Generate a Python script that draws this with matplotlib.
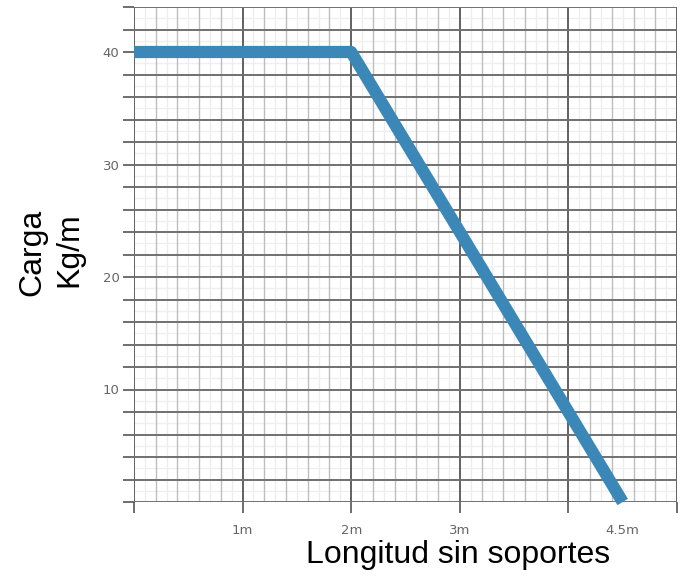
import matplotlib
matplotlib.use("Agg")
import matplotlib.pyplot as plt
import numpy as np
from matplotlib.ticker import MultipleLocator

# Data
length_m = [0, 2, 4.5]
load_kg_m = [40, 40, 0]
x_tick_vals = [0, 1, 2, 3, 4, 5]
x_tick_labels = ["", "1m", "2m", "3m", "", ""]
extra_x_label_pos = 4.5
extra_x_label = "4.5m"
y_tick_vals = list(range(0, 45, 2))
y_tick_labels = [str(v) if (v % 10 == 0 and v > 0) else "" for v in y_tick_vals]

fig = plt.figure(figsize=(6.83, 5.76), dpi=100)
ax = fig.add_axes([134/683, 1 - 502/576, (677-134)/683, (502-7)/576])

ax.set_xlim(0, 5)
ax.set_ylim(0, 44)

# faint fine grid
ax.vlines(np.arange(0.1, 5, 0.2), 0, 44, color="#ececec", linewidth=0.9, zorder=0.5)
ax.hlines(np.arange(1, 44, 2), 0, 5, color="#efefef", linewidth=0.9, zorder=0.5)

ax.set_xticks(x_tick_vals)
ax.set_xticklabels(x_tick_labels)
ax.xaxis.set_minor_locator(MultipleLocator(0.2))
ax.set_yticks(y_tick_vals)
ax.set_yticklabels(y_tick_labels)
ax.set_axisbelow(True)

ax.grid(True, which="major", axis="x", color="#555555", linewidth=1.3)
ax.grid(True, which="minor", axis="x", color="#bdbdbd", linewidth=1.0)
ax.grid(True, which="major", axis="y", color="#707070", linewidth=1.4)

ax.tick_params(axis="both", which="major", length=8, width=1.2, color="#555555",
               labelsize=9.5, labelcolor="#666666", direction="out")
ax.tick_params(axis="x", which="major", pad=8)
ax.tick_params(axis="y", which="major", pad=2.5)
ax.tick_params(axis="x", which="minor", length=0)

for s in ax.spines.values():
    s.set_visible(False)

ax.text(extra_x_label_pos, -(11 + 11) / 495, extra_x_label, transform=ax.get_xaxis_transform(),
        ha="center", va="top", fontsize=9.5, color="#666666")

ax.plot(length_m, load_kg_m, color="#3b87b7", linewidth=8.8, solid_capstyle="butt",
        solid_joinstyle="round", clip_on=False, zorder=5)

fig.text(0.048, 1 - 252/576, "Carga", rotation=90, ha="center", va="center",
         fontsize=23, family="Liberation Sans")
fig.text(0.101, 1 - 250/576, "Kg/m", rotation=90, ha="center", va="center",
         fontsize=23, family="Liberation Sans")
fig.text(458/683, 1 - 555/576, "Longitud sin soportes", ha="center", va="center",
         fontsize=23, family="Liberation Sans")

fig.savefig("out.png", dpi=100)
